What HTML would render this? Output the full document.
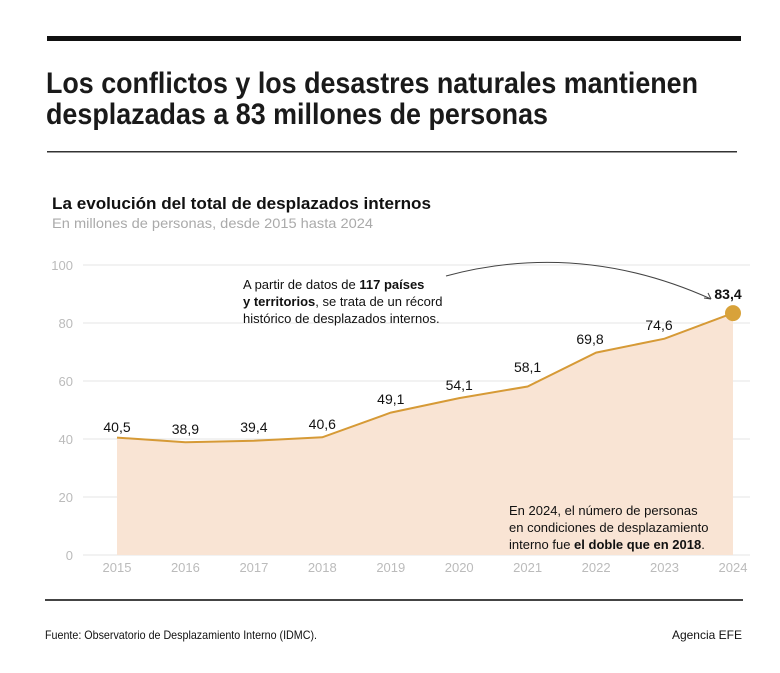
<!DOCTYPE html>
<html><head><meta charset="utf-8"><style>body{margin:0;background:#fff}svg{display:block}text{font-family:"Liberation Sans",sans-serif}</style></head><body>
<svg width="780" height="673" viewBox="0 0 780 673">
<rect x="47" y="36" width="694" height="5" fill="#111"/>
<text x="46" y="93" font-size="30" font-weight="bold" fill="#1a1a1a" textLength="652" lengthAdjust="spacingAndGlyphs">Los conflictos y los desastres naturales mantienen</text>
<text x="46" y="124" font-size="30" font-weight="bold" fill="#1a1a1a" textLength="502" lengthAdjust="spacingAndGlyphs">desplazadas a 83 millones de personas</text>
<rect x="47" y="151" width="690" height="1.5" fill="#333"/>
<text x="52" y="209" font-size="16.5" font-weight="bold" fill="#111" textLength="379" lengthAdjust="spacingAndGlyphs">La evolución del total de desplazados internos</text>
<text x="52" y="228" font-size="14" fill="#aaa" textLength="321" lengthAdjust="spacingAndGlyphs">En millones de personas, desde 2015 hasta 2024</text>
<g stroke="#e6e6e6" stroke-width="1">
<line x1="83" x2="750" y1="265" y2="265"/><line x1="83" x2="750" y1="323" y2="323"/><line x1="83" x2="750" y1="381" y2="381"/><line x1="83" x2="750" y1="439" y2="439"/><line x1="83" x2="750" y1="497" y2="497"/><line x1="83" x2="750" y1="555" y2="555"/>
</g>
<g font-size="13" fill="#bbb" text-anchor="end">
<text x="73" y="270">100</text><text x="73" y="328">80</text><text x="73" y="386">60</text><text x="73" y="444">40</text><text x="73" y="502">20</text><text x="73" y="560">0</text>
</g>
<polygon fill="#f9e4d4" points="117,555 117,437.6 185.4,442.2 253.9,440.7 322.3,437.3 390.8,412.6 459.2,398.1 527.6,386.5 596.1,352.6 664.5,338.7 733,313.1 733,555"/>
<polyline fill="none" stroke="#d69a36" stroke-width="2" points="117,437.6 185.4,442.2 253.9,440.7 322.3,437.3 390.8,412.6 459.2,398.1 527.6,386.5 596.1,352.6 664.5,338.7 733,313.1"/>
<circle cx="733" cy="313.1" r="8" fill="#d8a23a"/>
<g font-size="14" fill="#111" text-anchor="middle">
<text x="117" y="432">40,5</text><text x="185.4" y="434">38,9</text><text x="253.9" y="432">39,4</text><text x="322.3" y="429">40,6</text><text x="390.8" y="404">49,1</text><text x="459.2" y="390">54,1</text><text x="527.6" y="372">58,1</text><text x="590" y="344">69,8</text><text x="659" y="330">74,6</text><text x="728" y="299" font-weight="bold">83,4</text>
</g>
<g font-size="13" fill="#bbb" text-anchor="middle">
<text x="117" y="572">2015</text><text x="185.4" y="572">2016</text><text x="253.9" y="572">2017</text><text x="322.3" y="572">2018</text><text x="390.8" y="572">2019</text><text x="459.2" y="572">2020</text><text x="527.6" y="572">2021</text><text x="596.1" y="572">2022</text><text x="664.5" y="572">2023</text><text x="733" y="572">2024</text>
</g>
<g font-size="13" fill="#111">
<text x="243" y="289">A partir de datos de <tspan font-weight="bold">117 países</tspan></text>
<text x="243" y="306"><tspan font-weight="bold">y territorios</tspan>, se trata de un récord</text>
<text x="243" y="323">histórico de desplazados internos.</text>
<text x="509" y="515">En 2024, el número de personas</text>
<text x="509" y="532">en condiciones de desplazamiento</text>
<text x="509" y="549">interno fue <tspan font-weight="bold">el doble que en 2018</tspan>.</text>
</g>
<path d="M446,276 Q580,240 711,299" fill="none" stroke="#444" stroke-width="1"/>
<path d="M711,299 l-7,-1 M711,299 l-3,-6" stroke="#444" stroke-width="1" fill="none"/>
<rect x="45" y="599" width="698" height="2" fill="#444"/>
<text x="45" y="639" font-size="12" fill="#111" textLength="272" lengthAdjust="spacingAndGlyphs">Fuente: Observatorio de Desplazamiento Interno (IDMC).</text>
<text x="742" y="639" font-size="12" fill="#111" text-anchor="end">Agencia EFE</text>
</svg>
</body></html>
